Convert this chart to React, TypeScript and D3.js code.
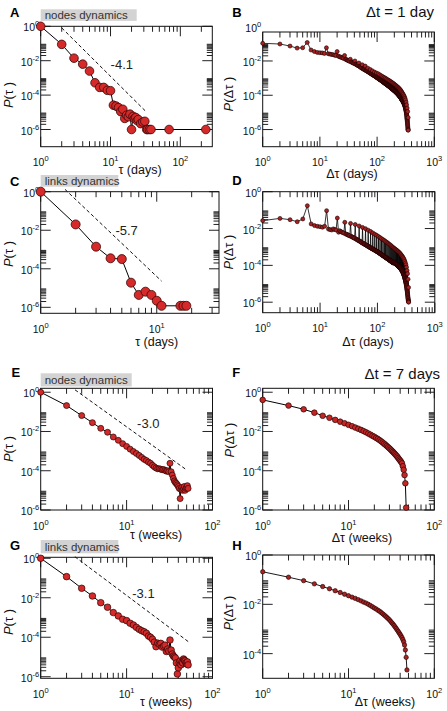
import React from "react";
import * as d3 from "d3";

const FONT = "'Liberation Sans', Arial, Helvetica, sans-serif";

// ---------------- DATA ----------------
// Panel A: nodes dynamics, Δt = 1 day
const aTau = [1, 2, 3, 4, 5, 6, 7, 8, 9, 10, 11, 12, 13, 14, 15, 16, 17, 18, 19, 20, 21, 22, 23, 24, 25, 27, 29, 31, 33, 34, 36, 38, 69, 232];
const aP = [1, 8.9e-2, 1.4e-2, 6.3e-3, 2.5e-3, 5.2e-4, 2.8e-4, 2.8e-4, 1.9e-4, 1.8e-4, 2.6e-5, 2.3e-5, 1.9e-5, 1.1e-5, 1.5e-5, 4.4e-6, 6.8e-6, 5.5e-6, 7.8e-6, 1e-6, 5.8e-6, 4.4e-6, 5e-6, 3.3e-6, 3.8e-6, 2.2e-6, 2.7e-6, 3e-6, 1e-6, 1e-6, 1e-6, 1e-6, 1e-6, 1e-6];

// Panel C: links dynamics, Δt = 1 day
const cTau = [1, 2, 3, 4, 5, 6, 7, 8, 9, 10, 11, 16, 17, 18];
const cP = [1, 2.0e-2, 1.4e-3, 3.5e-4, 3.2e-4, 1.9e-5, 4.4e-6, 6.5e-6, 4.4e-6, 2.2e-6, 1.2e-6, 1.2e-6, 1.2e-6, 1.2e-6];

// Panel B: log10 P(Δτ), one value per day (Δτ = 1..350), a row per week
const bLog10P = [
  -0.97, -1.01, -1.13, -1.25, -1.23, -0.92, -1.36,
  -1.45, -1.5, -1.52, -1.53, -1.56, -1.23, -1.58,
  -1.6, -1.62, -1.63, -1.66, -1.68, -1.45, -1.72,
  -1.75, -1.77, -1.8, -1.82, -1.85, -1.68, -1.9,
  -1.92, -1.95, -1.97, -1.99, -2.02, -1.9, -2.05,
  -2.07, -2.09, -2.11, -2.13, -2.15, -2.0, -2.18,
  -2.2, -2.22, -2.24, -2.26, -2.28, -2.12, -2.31,
  -2.33, -2.35, -2.37, -2.39, -2.42, -2.22, -2.44,
  -2.45, -2.47, -2.49, -2.5, -2.52, -2.3, -2.54,
  -2.55, -2.57, -2.58, -2.6, -2.61, -2.42, -2.63,
  -2.64, -2.66, -2.67, -2.69, -2.7, -2.5, -2.72,
  -2.73, -2.74, -2.76, -2.77, -2.78, -2.58, -2.8,
  -2.81, -2.82, -2.83, -2.85, -2.86, -2.65, -2.87,
  -2.88, -2.9, -2.91, -2.92, -2.93, -2.7, -2.95,
  -2.96, -2.97, -2.98, -2.99, -3.0, -2.74, -3.02,
  -3.03, -3.04, -3.05, -3.06, -3.07, -2.8, -3.08,
  -3.09, -3.1, -3.11, -3.12, -3.13, -2.86, -3.14,
  -3.15, -3.16, -3.17, -3.18, -3.19, -2.91, -3.2,
  -3.21, -3.22, -3.23, -3.24, -3.25, -2.96, -3.26,
  -3.27, -3.28, -3.29, -3.3, -3.31, -3.0, -3.32,
  -3.33, -3.34, -3.34, -3.35, -3.36, -3.05, -3.37,
  -3.38, -3.39, -3.39, -3.4, -3.41, -3.09, -3.42,
  -3.42, -3.43, -3.44, -3.45, -3.46, -3.13, -3.47,
  -3.47, -3.48, -3.49, -3.5, -3.51, -3.17, -3.52,
  -3.52, -3.53, -3.54, -3.55, -3.56, -3.21, -3.57,
  -3.57, -3.58, -3.59, -3.6, -3.6, -3.25, -3.61,
  -3.62, -3.63, -3.63, -3.64, -3.65, -3.29, -3.66,
  -3.66, -3.67, -3.68, -3.69, -3.69, -3.33, -3.7,
  -3.71, -3.71, -3.72, -3.73, -3.74, -3.37, -3.75,
  -3.75, -3.76, -3.77, -3.77, -3.78, -3.41, -3.79,
  -3.8, -3.8, -3.81, -3.82, -3.83, -3.45, -3.84,
  -3.84, -3.85, -3.86, -3.87, -3.87, -3.49, -3.88,
  -3.89, -3.9, -3.9, -3.91, -3.92, -3.53, -3.93,
  -3.94, -3.94, -3.95, -3.96, -3.97, -3.57, -3.98,
  -3.99, -3.99, -4.0, -4.01, -4.02, -3.61, -4.03,
  -4.04, -4.05, -4.05, -4.06, -4.07, -3.66, -4.08,
  -4.09, -4.1, -4.11, -4.12, -4.13, -3.71, -4.14,
  -4.15, -4.16, -4.17, -4.18, -4.19, -3.77, -4.2,
  -4.21, -4.22, -4.23, -4.24, -4.25, -3.83, -4.26,
  -4.27, -4.28, -4.29, -4.3, -4.31, -3.89, -4.32,
  -4.33, -4.34, -4.35, -4.36, -4.37, -3.95, -4.38,
  -4.39, -4.4, -4.42, -4.43, -4.44, -4.02, -4.45,
  -4.46, -4.48, -4.49, -4.5, -4.52, -4.09, -4.53,
  -4.55, -4.56, -4.58, -4.6, -4.61, -4.17, -4.63,
  -4.65, -4.67, -4.69, -4.71, -4.73, -4.27, -4.75,
  -4.78, -4.8, -4.83, -4.86, -4.89, -4.4, -4.92,
  -4.95, -4.99, -5.03, -5.07, -5.11, -4.56, -5.15,
  -5.2, -5.25, -5.3, -5.35, -5.4, -4.75, -5.45,
  -5.5, -5.55, -5.6, -5.66, -5.72, -4.95, -5.78,
  -5.84, -5.9, -5.95, -6.0, -6.02, -5.3, -6.04,
];

// Panel D: log10 P(Δτ), one value per day (Δτ = 1..350), a row per week
const dLog10P = [
  -1.57, -1.45, -1.52, -1.63, -1.48, -0.76, -1.75,
  -1.84, -1.88, -1.9, -1.93, -1.88, -1.03, -2.03,
  -2.06, -2.08, -2.02, -2.05, -2.08, -1.43, -2.2,
  -2.12, -2.16, -2.2, -2.22, -2.25, -1.66, -2.3,
  -2.31, -2.33, -2.36, -2.38, -2.4, -1.72, -2.43,
  -2.45, -2.47, -2.49, -2.51, -2.53, -1.78, -2.56,
  -2.58, -2.6, -2.62, -2.64, -2.66, -1.86, -2.68,
  -2.7, -2.72, -2.74, -2.76, -2.78, -1.94, -2.8,
  -2.81, -2.83, -2.84, -2.86, -2.87, -2.01, -2.89,
  -2.9, -2.92, -2.93, -2.95, -2.96, -2.09, -2.98,
  -2.99, -3.0, -3.01, -3.03, -3.04, -2.16, -3.05,
  -3.06, -3.08, -3.09, -3.1, -3.11, -2.24, -3.12,
  -3.13, -3.14, -3.15, -3.16, -3.17, -2.31, -3.18,
  -3.19, -3.2, -3.21, -3.22, -3.23, -2.37, -3.24,
  -3.25, -3.26, -3.27, -3.28, -3.29, -2.43, -3.3,
  -3.31, -3.32, -3.33, -3.34, -3.35, -2.49, -3.36,
  -3.37, -3.38, -3.39, -3.4, -3.41, -2.55, -3.42,
  -3.43, -3.44, -3.45, -3.46, -3.46, -2.6, -3.47,
  -3.48, -3.49, -3.5, -3.51, -3.51, -2.65, -3.52,
  -3.53, -3.54, -3.55, -3.56, -3.56, -2.7, -3.57,
  -3.58, -3.59, -3.59, -3.6, -3.61, -2.75, -3.62,
  -3.62, -3.63, -3.64, -3.65, -3.65, -2.8, -3.66,
  -3.67, -3.68, -3.68, -3.69, -3.7, -2.85, -3.7,
  -3.71, -3.72, -3.72, -3.73, -3.74, -2.89, -3.75,
  -3.75, -3.76, -3.77, -3.77, -3.78, -2.94, -3.79,
  -3.79, -3.8, -3.81, -3.81, -3.82, -2.99, -3.83,
  -3.83, -3.84, -3.85, -3.85, -3.86, -3.03, -3.87,
  -3.82, -3.82, -3.83, -3.84, -3.84, -3.07, -3.85,
  -3.86, -3.86, -3.87, -3.88, -3.88, -3.11, -3.89,
  -3.89, -3.9, -3.9, -3.91, -3.92, -3.14, -3.92,
  -3.93, -3.93, -3.94, -3.95, -3.95, -3.18, -3.96,
  -3.96, -3.97, -3.98, -3.98, -3.99, -3.21, -3.99,
  -4.0, -4.01, -4.01, -4.02, -4.03, -3.25, -4.03,
  -4.04, -4.04, -4.05, -4.06, -4.06, -3.29, -4.07,
  -4.08, -4.08, -4.09, -4.1, -4.1, -3.33, -4.11,
  -4.12, -4.13, -4.13, -4.14, -4.15, -3.37, -4.16,
  -4.16, -4.17, -4.18, -4.19, -4.2, -3.42, -4.21,
  -4.21, -4.22, -4.23, -4.24, -4.25, -3.47, -4.26,
  -4.27, -4.28, -4.29, -4.3, -4.31, -3.52, -4.32,
  -4.33, -4.34, -4.35, -4.37, -4.38, -3.57, -4.39,
  -4.4, -4.42, -4.43, -4.45, -4.46, -3.63, -4.48,
  -4.49, -4.51, -4.52, -4.54, -4.56, -3.7, -4.57,
  -4.59, -4.61, -4.62, -4.64, -4.66, -3.78, -4.68,
  -4.7, -4.72, -4.74, -4.76, -4.78, -3.87, -4.8,
  -4.82, -4.85, -4.87, -4.9, -4.92, -3.97, -4.95,
  -4.98, -5.0, -5.03, -5.06, -5.09, -4.1, -5.12,
  -5.15, -5.19, -5.22, -5.26, -5.3, -4.28, -5.33,
  -5.37, -5.41, -5.45, -5.49, -5.53, -4.45, -5.57,
  -5.61, -5.65, -5.7, -5.74, -5.78, -4.75, -5.82,
  -5.86, -5.9, -5.93, -5.96, -5.98, -5.2, -6.0,
];

// Panel E: nodes dynamics, Δt = 7 days (τ = 1..52 weeks)
const eLog10P = [0, -0.68, -1.19, -1.55, -1.84, -2.04, -2.28, -2.45, -2.62, -2.76, -2.9, -3.02, -3.12, -3.22, -3.32, -3.42, -3.48, -3.56, -3.62, -3.72, -3.8, -3.86, -3.9, -3.9, -3.92, -3.95, -3.94, -3.98, -4.02, -4.0, -4.05, -3.62, -4.05, -4.22, -4.39, -4.52, -4.6, -4.65, -4.72, -4.8, -4.9, -5.42, -4.95, -4.85, -5.0, -4.92, -4.8, -5.0, -4.9, -4.85, -4.76, -4.9];

// Panel F: Δτ = 1..47 weeks
const fLog10P = [-0.39, -0.68, -0.87, -1.04, -1.2, -1.3, -1.41, -1.5, -1.58, -1.66, -1.73, -1.8, -1.86, -1.92, -1.98, -2.04, -2.1, -2.16, -2.22, -2.27, -2.33, -2.38, -2.44, -2.5, -2.56, -2.62, -2.68, -2.74, -2.8, -2.86, -2.92, -2.98, -3.04, -3.1, -3.16, -3.22, -3.28, -3.35, -3.42, -3.48, -3.54, -3.62, -3.77, -3.95, -4.22, -4.64, -5.88];

// Panel G: links dynamics, Δt = 7 days (τ = 1..52 weeks)
const gLog10P = [0, -0.93, -1.52, -1.91, -2.25, -2.48, -2.75, -2.92, -3.09, -3.16, -3.29, -3.38, -3.5, -3.6, -3.67, -3.72, -3.8, -3.94, -4.0, -4.1, -4.25, -4.48, -4.3, -4.35, -4.31, -4.5, -4.45, -4.4, -4.72, -4.6, -4.7, -4.14, -4.65, -4.85, -4.95, -5.0, -5.05, -5.3, -5.86, -5.55, -5.3, -5.2, -5.4, -5.25, -5.3, -5.1, -5.15, -5.2, -5.3, -5.35, -5.25, -5.4];

// Panel H: Δτ = 1..48 weeks
const hLog10P = [-0.68, -0.9, -1.04, -1.17, -1.28, -1.37, -1.45, -1.52, -1.59, -1.65, -1.71, -1.76, -1.81, -1.86, -1.91, -1.95, -2.0, -2.05, -2.1, -2.15, -2.19, -2.24, -2.28, -2.33, -2.38, -2.43, -2.48, -2.53, -2.58, -2.63, -2.69, -2.75, -2.8, -2.86, -2.92, -2.98, -3.04, -3.1, -3.16, -3.22, -3.28, -3.35, -3.43, -3.52, -3.65, -3.85, -4.15, -4.66];

// Dashed guide lines (endpoints) and their slope labels
const aFitX = [2, 33];
const aFitP = [0.81, 1.0e-5];
const cFitX = [1.62, 11];
const cFitP = [1.32, 2.3e-5];
const eFitX = [2.51, 50];
const eFitP = [1.32, 1.1e-4];
const gFitX = [2.5, 52.5];
const gFitP = [1.2, 5.9e-5];
const slopeLabels = ["-4.1", "-5.7", "-3.0", "-3.1"];

// Tick exponents
const xExpsDays = [0, 1, 2];
const xExpsDays3 = [0, 1, 2, 3];
const xExpsC = [0, 1];
const xExpsWeeks = [0, 1, 2];
const yExps6 = [0, -2, -4, -6];
const yExps4 = [0, -2, -4];

const daysOf = (arr: number[]) => arr.map((_, i) => i + 1);
const pow10 = (arr: number[]) => arr.map((v) => Math.pow(10, v));

// ---------------- PANEL CONFIG ----------------
type Cfg = {
  letter: string; lx: number; ly: number;
  left: number; right: number; top: number; bottom: number;
  xDomain: [number, number]; yDomain: [number, number];
  xExps: number[]; yExps: number[];
  xs: number[]; ys: number[];
  r: number; fill: string; stroke: string; sw: number; lineW: number;
  xTitle: string; xtx: number; xty: number;
  yTitleInner: string; ytx: number; yty: number;
  box?: { x: number; y: number; w: number; h: number; text: string; ty: number };
  fit?: { xs: number[]; ps: number[]; label: string; lx: number; lp: number };
};

const panels: Cfg[] = [
  {
    letter: "A", lx: 10, ly: 16.5,
    left: 40.7, right: 212.3, top: 26.3, bottom: 146.7,
    xDomain: [1, 287], yDomain: [1e-7, 1], xExps: xExpsDays, yExps: yExps6,
    xs: aTau, ys: aP, r: 4.3, fill: "#d62a2a", stroke: "#3a0606", sw: 0.8, lineW: 1,
    xTitle: "τ (days)", xtx: 140, xty: 173.5, yTitleInner: "τ ", ytx: 8.5, yty: 95,
    box: { x: 40.7, y: 9.3, w: 96, h: 11.6, text: "nodes dynamics", ty: 19 },
    fit: { xs: aFitX, ps: aFitP, label: slopeLabels[0], lx: 14.5, lp: 5.8e-3 },
  },
  {
    letter: "B", lx: 232.3, ly: 16.5,
    left: 262.7, right: 434.3, top: 32, bottom: 146.7,
    xDomain: [1, 1000], yDomain: [1e-7, Math.pow(10, -0.31)], xExps: xExpsDays3, yExps: yExps6,
    xs: daysOf(bLog10P), ys: pow10(bLog10P), r: 2, fill: "#a82222", stroke: "#1a0000", sw: 0.6, lineW: 0.8,
    xTitle: "Δτ (days)", xtx: 352, xty: 178, yTitleInner: "Δτ ", ytx: 228.7, yty: 94,
  },
  {
    letter: "C", lx: 10, ly: 185.5,
    left: 40.7, right: 219, top: 191.7, bottom: 313.3,
    xDomain: [1, 34.4], yDomain: [Math.pow(10, -6.31), 1], xExps: xExpsC, yExps: yExps6,
    xs: cTau, ys: cP, r: 4.5, fill: "#d62a2a", stroke: "#3a0606", sw: 0.8, lineW: 1,
    xTitle: "τ (days)", xtx: 156.7, xty: 346, yTitleInner: "τ ", ytx: 8.5, yty: 254,
    box: { x: 40.7, y: 175, w: 77.6, h: 11.7, text: "links dynamics", ty: 184.8 },
    fit: { xs: cFitX, ps: cFitP, label: slopeLabels[1], lx: 5.5, lp: 1.02e-2 },
  },
  {
    letter: "D", lx: 232.3, ly: 185,
    left: 262.7, right: 434.8, top: 191.7, bottom: 312.7,
    xDomain: [1, 1000], yDomain: [Math.pow(10, -6.57), 1], xExps: xExpsDays3, yExps: yExps6,
    xs: daysOf(dLog10P), ys: pow10(dLog10P), r: 2, fill: "#a82222", stroke: "#1a0000", sw: 0.6, lineW: 0.8,
    xTitle: "Δτ (days)", xtx: 368, xty: 346, yTitleInner: "Δτ ", ytx: 228.7, yty: 252,
  },
  {
    letter: "E", lx: 11.5, ly: 376.5,
    left: 40.7, right: 212.5, top: 388.3, bottom: 510,
    xDomain: [1, 100], yDomain: [1e-6, Math.pow(10, 0.2)], xExps: xExpsWeeks, yExps: yExps6,
    xs: daysOf(eLog10P), ys: pow10(eLog10P), r: 3, fill: "#d02a2a", stroke: "#2a0404", sw: 0.7, lineW: 1,
    xTitle: "τ (weeks)", xtx: 156, xty: 539, yTitleInner: "τ ", ytx: 8.5, yty: 449,
    box: { x: 40.7, y: 373.3, w: 91, h: 13.2, text: "nodes dynamics", ty: 383.8 },
    fit: { xs: eFitX, ps: eFitP, label: slopeLabels[2], lx: 17.9, lp: 2.6e-2 },
  },
  {
    letter: "F", lx: 232.3, ly: 376.5,
    left: 262.7, right: 434.3, top: 388.3, bottom: 510,
    xDomain: [1, 100], yDomain: [1e-6, Math.pow(10, 0.2)], xExps: xExpsWeeks, yExps: yExps6,
    xs: daysOf(fLog10P), ys: pow10(fLog10P), r: 2.8, fill: "#c42626", stroke: "#2a0404", sw: 0.7, lineW: 1,
    xTitle: "Δτ (weeks)", xtx: 362, xty: 541.5, yTitleInner: "Δτ ", ytx: 229, yty: 440,
  },
  {
    letter: "G", lx: 10, ly: 549.7,
    left: 40.7, right: 212.5, top: 557.3, bottom: 678.3,
    xDomain: [1, 100], yDomain: [Math.pow(10, -6.08), Math.pow(10, 0.05)], xExps: xExpsWeeks, yExps: yExps6,
    xs: daysOf(gLog10P), ys: pow10(gLog10P), r: 3.3, fill: "#d62a2a", stroke: "#2a0404", sw: 0.7, lineW: 1,
    xTitle: "τ (weeks)", xtx: 166, xty: 705.5, yTitleInner: "τ ", ytx: 8.5, yty: 622,
    box: { x: 40.7, y: 540, w: 77.6, h: 13.3, text: "links dynamics", ty: 550.5 },
    fit: { xs: gFitX, ps: gFitP, label: slopeLabels[3], lx: 15.7, lp: 1.7e-2 },
  },
  {
    letter: "H", lx: 232.3, ly: 549.7,
    left: 262.7, right: 434.3, top: 555, bottom: 678.3,
    xDomain: [1, 100], yDomain: [1e-5, 1], xExps: xExpsWeeks, yExps: yExps4,
    xs: daysOf(hLog10P), ys: pow10(hLog10P), r: 2.2, fill: "#a82222", stroke: "#1a0000", sw: 0.6, lineW: 0.9,
    xTitle: "Δτ (weeks)", xtx: 385, xty: 705.5, yTitleInner: "Δτ ", ytx: 228.7, yty: 613,
  },
];

const MAJ = 10;
const MIN = 5.5;

function Panel({ p }: { p: Cfg }) {
  const x = d3.scaleLog().domain(p.xDomain).range([p.left, p.right]);
  const y = d3.scaleLog().domain(p.yDomain).range([p.bottom, p.top]);
  const inX = (v: number) => v >= p.xDomain[0] * 0.999 && v <= p.xDomain[1] * 1.001;
  const inY = (v: number) => v >= p.yDomain[0] * 0.999 && v <= p.yDomain[1] * 1.001;

  const xt: { v: number; major: boolean }[] = [];
  const e0 = Math.floor(Math.log10(p.xDomain[0]));
  const e1 = Math.ceil(Math.log10(p.xDomain[1]));
  for (let e = e0; e <= e1; e++) {
    for (let k = 1; k <= 9; k++) {
      const v = k * Math.pow(10, e);
      if (inX(v)) xt.push({ v, major: k === 1 });
    }
  }
  const yt: { v: number; major: boolean }[] = [];
  p.yExps.forEach((m) => {
    for (let k = 1; k <= 9; k++) {
      const v = k * Math.pow(10, m);
      if (inY(v)) yt.push({ v, major: k === 1 });
    }
  });

  const pts = p.xs.map((t, i) => [x(t), y(p.ys[i])] as [number, number]);
  const linePath = d3.line()(pts) || "";
  const tickColor = "#222";

  return (
    <g>
      <text x={p.lx} y={p.ly} fontFamily={FONT} fontWeight="bold" fontSize={13} fill="#000">{p.letter}</text>
      {p.box && (
        <g>
          <rect x={p.box.x} y={p.box.y} width={p.box.w} height={p.box.h} fill="#d3d3d3" />
          <text x={p.box.x + 4} y={p.box.ty} fontFamily={FONT} fontSize={11.5} fill="#333">{p.box.text}</text>
        </g>
      )}
      {xt.map((t, i) => {
        const xx = x(t.v);
        const L = t.major ? MAJ : MIN;
        return (
          <g key={"xt" + i} stroke={tickColor} strokeWidth={1}>
            <line x1={xx} x2={xx} y1={p.bottom} y2={p.bottom - L} />
            <line x1={xx} x2={xx} y1={p.top} y2={p.top + L} />
          </g>
        );
      })}
      {yt.map((t, i) => {
        const yy = y(t.v);
        const L = t.major ? MAJ : MIN;
        return (
          <g key={"yt" + i} stroke={tickColor} strokeWidth={1}>
            <line x1={p.left} x2={p.left + L} y1={yy} y2={yy} />
            <line x1={p.right} x2={p.right - L} y1={yy} y2={yy} />
          </g>
        );
      })}
      <rect x={p.left} y={p.top} width={p.right - p.left} height={p.bottom - p.top} fill="none" stroke="#111" strokeWidth={1} />
      {p.xExps.map((e) => (
        <text key={"xl" + e} x={x(Math.pow(10, e))} y={p.bottom + 19.5} textAnchor="middle" fontFamily={FONT} fontSize={10.5} fill="#111">
          10<tspan fontSize={7.5} dy={-5}>{e}</tspan>
        </text>
      ))}
      {p.yExps.map((e) => (
        <text key={"yl" + e} x={p.left - 1.5} y={y(Math.pow(10, e)) + 5} textAnchor="end" fontFamily={FONT} fontSize={10.5} fill="#111">
          10<tspan fontSize={7.5} dy={-5}>{e}</tspan>
        </text>
      ))}
      <text x={p.xtx} y={p.xty} textAnchor="middle" fontFamily={FONT} fontSize={12.5} fill="#111">{p.xTitle}</text>
      <text transform={`translate(${p.ytx},${p.yty}) rotate(-90)`} dy="0.35em" textAnchor="middle" fontFamily={FONT} fontSize={13} fill="#111">
        <tspan fontStyle="italic">P</tspan>({p.yTitleInner})
      </text>
      {p.fit && (
        <g>
          <line x1={x(p.fit.xs[0])} y1={y(p.fit.ps[0])} x2={x(p.fit.xs[1])} y2={y(p.fit.ps[1])} stroke="#111" strokeWidth={1} strokeDasharray="3.5,2.5" />
          <text x={x(p.fit.lx)} y={y(p.fit.lp)} dy="0.35em" textAnchor="middle" fontFamily={FONT} fontSize={13} fill="#222">{p.fit.label}</text>
        </g>
      )}
      <path d={linePath} fill="none" stroke="#000" strokeWidth={p.lineW} />
      {pts.map((pt, i) => (
        <circle key={"c" + i} cx={pt[0]} cy={pt[1]} r={p.r} fill={p.fill} stroke={p.stroke} strokeWidth={p.sw} />
      ))}
    </g>
  );
}

export default function App() {
  return (
    <svg width={447} height={711} style={{ position: "absolute", left: 0, top: 0, background: "#fff" }} xmlns="http://www.w3.org/2000/svg">
      <rect x={0} y={0} width={447} height={711} fill="#fff" />
      {panels.map((p) => <Panel key={p.letter} p={p} />)}
      <text x={434} y={17} textAnchor="end" fontFamily={FONT} fontSize={15} fill="#111">Δt = 1 day</text>
      <text x={440} y={378.5} textAnchor="end" fontFamily={FONT} fontSize={15} fill="#111">Δt = 7 days</text>
    </svg>
  );
}
